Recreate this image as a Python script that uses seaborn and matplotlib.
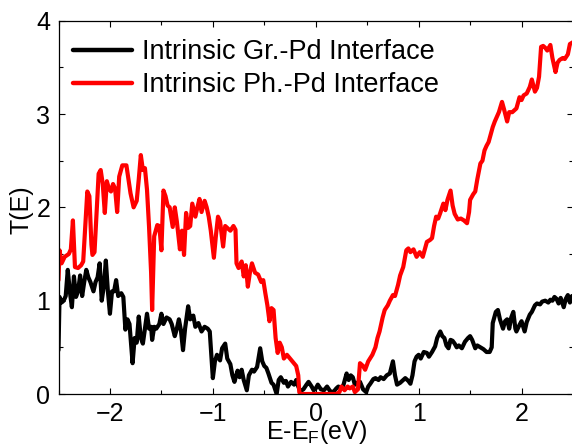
import numpy as np
import pandas as pd
import matplotlib
matplotlib.use("Agg")
import matplotlib.pyplot as plt
from matplotlib.ticker import MultipleLocator
import seaborn as sns

# ---- data ----
LABEL_GR = "Intrinsic Gr.-Pd Interface"
LABEL_PH = "Intrinsic Ph.-Pd Interface"

gr_energy = [
    -2.50, -2.49, -2.47, -2.45, -2.43, -2.41, -2.39, -2.37, -2.35, -2.33, -2.31, -2.29, -2.27, -2.25,
    -2.23, -2.21, -2.19, -2.16, -2.14, -2.12, -2.10, -2.08, -2.06, -2.04, -2.02, -2.00, -1.98, -1.96,
    -1.94, -1.92, -1.89, -1.87, -1.85, -1.83, -1.81, -1.78, -1.76, -1.74, -1.72, -1.70, -1.68, -1.66,
    -1.64, -1.62, -1.60, -1.59, -1.57, -1.55, -1.52, -1.50, -1.48, -1.45, -1.42, -1.40, -1.37, -1.35,
    -1.33, -1.31, -1.29, -1.27, -1.24, -1.22, -1.19, -1.17, -1.14, -1.11, -1.08, -1.05, -1.03, -1.00,
    -0.98, -0.96, -0.93, -0.91, -0.88, -0.86, -0.83, -0.81, -0.79, -0.76, -0.74, -0.72, -0.70, -0.67,
    -0.65, -0.62, -0.60, -0.57, -0.54, -0.52, -0.50, -0.48, -0.46, -0.43, -0.41, -0.38, -0.36, -0.34,
    -0.31, -0.29, -0.27, -0.24, -0.21, -0.19, -0.17, -0.15, -0.12, -0.09, -0.07, -0.04, -0.02, 0.00,
    0.02, 0.05, 0.08, 0.11, 0.14, 0.17, 0.20, 0.22, 0.25, 0.27, 0.30, 0.32, 0.34, 0.36, 0.38, 0.40,
    0.43, 0.46, 0.49, 0.51, 0.53, 0.56, 0.58, 0.61, 0.63, 0.66, 0.69, 0.72, 0.75, 0.77, 0.79, 0.82,
    0.85, 0.87, 0.90, 0.92, 0.94, 0.96, 0.98, 1.00, 1.02, 1.05, 1.08, 1.10, 1.13, 1.16, 1.18, 1.21,
    1.23, 1.25, 1.27, 1.29, 1.31, 1.33, 1.35, 1.37, 1.39, 1.42, 1.45, 1.48, 1.50, 1.52, 1.55, 1.57,
    1.60, 1.63, 1.66, 1.69, 1.71, 1.72, 1.75, 1.77, 1.79, 1.82, 1.84, 1.86, 1.88, 1.90, 1.92, 1.94,
    1.95, 1.98, 2.00, 2.03, 2.05, 2.08, 2.10, 2.13, 2.15, 2.18, 2.20, 2.23, 2.26, 2.28, 2.30, 2.32,
    2.34, 2.36, 2.38, 2.41, 2.43, 2.45, 2.47, 2.49, 2.50,
]
gr_trans = [
    0.47, 1.04, 0.98, 1.00, 1.05, 1.33, 1.10, 0.93, 1.26, 1.04, 1.10, 1.27, 1.05, 1.20,
    1.33, 1.25, 1.20, 1.10, 1.20, 1.25, 1.40, 1.00, 1.15, 1.43, 1.10, 0.86, 1.10, 1.10,
    1.22, 1.05, 1.08, 1.04, 0.69, 0.80, 0.75, 0.33, 0.60, 0.55, 0.83, 0.60, 0.54, 0.70,
    0.86, 0.70, 0.72, 0.58, 0.72, 0.70, 0.75, 0.86, 0.75, 0.82, 0.80, 0.75, 0.62, 0.70,
    0.80, 0.68, 0.47, 0.70, 0.94, 0.80, 0.84, 0.72, 0.76, 0.67, 0.72, 0.70, 0.67, 0.17,
    0.35, 0.42, 0.36, 0.49, 0.54, 0.38, 0.32, 0.20, 0.13, 0.25, 0.18, 0.26, 0.15, 0.04,
    0.20, 0.26, 0.24, 0.29, 0.49, 0.35, 0.30, 0.28, 0.22, 0.12, 0.10, 0.00, 0.15, 0.18,
    0.12, 0.14, 0.08, 0.13, 0.10, 0.15, 0.08, 0.03, 0.05, 0.10, 0.13, 0.08, 0.04, 0.06,
    0.10, 0.05, 0.04, 0.08, 0.03, 0.02, 0.06, 0.08, 0.06, 0.10, 0.22, 0.15, 0.20, 0.18, 0.10, 0.12,
    0.13, 0.05, 0.02, 0.08, 0.11, 0.16, 0.17, 0.15, 0.18, 0.16, 0.20, 0.22, 0.35, 0.20, 0.10, 0.12,
    0.15, 0.17, 0.14, 0.11, 0.20, 0.35, 0.40, 0.42, 0.38, 0.45, 0.44, 0.40, 0.45, 0.51, 0.60, 0.67,
    0.62, 0.60, 0.52, 0.49, 0.58, 0.57, 0.54, 0.50, 0.52, 0.49, 0.56, 0.60, 0.62, 0.58, 0.49, 0.52,
    0.50, 0.48, 0.45, 0.45, 0.50, 0.76, 0.88, 0.90, 0.80, 0.70, 0.78, 0.80, 0.70, 0.82, 0.88, 0.70,
    0.67, 0.74, 0.78, 0.67, 0.77, 0.85, 0.88, 0.95, 0.97, 0.96, 0.99, 1.00, 0.98, 1.01, 1.00, 1.04,
    1.02, 0.97, 1.03, 0.93, 1.02, 1.06, 0.98, 1.05, 1.02,
]

ph_energy = [
    -2.50, -2.49, -2.47, -2.44, -2.40, -2.38, -2.36, -2.34, -2.31, -2.28, -2.26, -2.24, -2.22, -2.20,
    -2.18, -2.17, -2.15, -2.13, -2.11, -2.09, -2.07, -2.05, -2.03, -2.01, -1.99, -1.97, -1.95, -1.93,
    -1.91, -1.88, -1.84, -1.82, -1.80, -1.77, -1.74, -1.72, -1.70, -1.68, -1.66, -1.64, -1.62, -1.60,
    -1.59, -1.57, -1.54, -1.52, -1.50, -1.48, -1.46, -1.44, -1.42, -1.39, -1.37, -1.35, -1.32, -1.30,
    -1.28, -1.26, -1.24, -1.22, -1.20, -1.17, -1.15, -1.13, -1.11, -1.08, -1.06, -1.04, -1.02, -0.99,
    -0.97, -0.95, -0.93, -0.90, -0.88, -0.86, -0.83, -0.80, -0.78, -0.77, -0.75, -0.72, -0.70, -0.68,
    -0.66, -0.64, -0.62, -0.59, -0.56, -0.53, -0.51, -0.49, -0.47, -0.45, -0.43, -0.41, -0.39, -0.37,
    -0.35, -0.33, -0.31, -0.28, -0.25, -0.22, -0.19, -0.17, -0.16, -0.15, 0.00, 0.20, 0.23, 0.25,
    0.28, 0.31, 0.33, 0.36, 0.38, 0.41, 0.43, 0.46, 0.48, 0.51, 0.55, 0.58, 0.60, 0.62, 0.65, 0.67,
    0.70, 0.72, 0.75, 0.77, 0.80, 0.82, 0.85, 0.88, 0.90, 0.92, 0.95, 0.98, 1.01, 1.04, 1.06, 1.08,
    1.11, 1.13, 1.15, 1.17, 1.19, 1.21, 1.24, 1.26, 1.28, 1.31, 1.33, 1.35, 1.38, 1.41, 1.44, 1.47,
    1.49, 1.50, 1.53, 1.55, 1.57, 1.60, 1.62, 1.64, 1.66, 1.68, 1.70, 1.72, 1.74, 1.76, 1.78, 1.81,
    1.83, 1.86, 1.88, 1.91, 1.93, 1.95, 1.98, 2.00, 2.02, 2.05, 2.08, 2.10, 2.13, 2.15, 2.17, 2.19,
    2.21, 2.23, 2.25, 2.28, 2.30, 2.33, 2.35, 2.37, 2.40, 2.42, 2.45, 2.47, 2.50,
]
ph_trans = [
    1.22, 1.54, 1.40, 1.47, 1.50, 1.55, 1.86, 1.36, 1.35, 1.38, 1.42, 1.80, 2.17, 2.12,
    1.60, 1.49, 1.52, 1.95, 2.36, 2.40, 2.25, 1.94, 2.28, 2.20, 2.17, 2.25, 2.20, 1.95,
    2.33, 2.45, 2.45, 2.30, 2.15, 2.00, 2.07, 2.30, 2.56, 2.40, 2.42, 2.19, 1.79, 1.30,
    0.90, 1.69, 1.81, 1.80, 1.54, 2.18, 2.12, 2.02, 2.00, 1.79, 2.00, 1.85, 1.55, 1.75,
    1.49, 1.94, 1.78, 1.80, 2.04, 1.90, 2.00, 2.09, 1.95, 2.07, 2.00, 1.90, 1.75, 1.46,
    1.70, 1.90, 1.85, 1.58, 1.80, 1.78, 1.75, 1.80, 1.76, 1.40, 1.35, 1.42, 1.26, 1.38,
    1.15, 1.30, 1.40, 1.30, 1.28, 1.20, 1.22, 1.08, 0.95, 0.78, 0.92, 0.90, 0.60, 0.44,
    0.55, 0.50, 0.38, 0.42, 0.38, 0.34, 0.30, 0.20, 0.02, 0.00, 0.00, 0.00, 0.02, 0.08,
    0.04, 0.08, 0.06, 0.08, 0.02, 0.05, 0.33, 0.30, 0.26, 0.35, 0.42, 0.50, 0.60, 0.67, 0.82, 0.90,
    0.95, 1.00, 1.06, 1.05, 1.17, 1.27, 1.36, 1.54, 1.56, 1.52, 1.55, 1.47, 1.52, 1.47, 1.55, 1.63,
    1.65, 1.67, 1.80, 1.90, 1.88, 1.94, 2.04, 1.97, 2.08, 2.18, 2.02, 1.93, 1.87, 1.88, 1.86, 1.83,
    1.95, 2.08, 2.14, 2.17, 2.30, 2.47, 2.50, 2.61, 2.66, 2.70, 2.78, 2.86, 2.92, 2.97, 3.02, 3.13,
    3.05, 2.92, 3.02, 3.02, 3.04, 3.06, 3.18, 3.15, 3.20, 3.22, 3.29, 3.37, 3.24, 3.28, 3.40, 3.72,
    3.73, 3.71, 3.68, 3.74, 3.60, 3.45, 3.55, 3.58, 3.60, 3.59, 3.64, 3.75, 3.77,
]

x_ticks = [-2, -1, 0, 1, 2]
y_ticks = [0, 1, 2, 3, 4]

df = pd.concat([
    pd.DataFrame({"E": gr_energy, "T": gr_trans, "series": LABEL_GR}),
    pd.DataFrame({"E": ph_energy, "T": ph_trans, "series": LABEL_PH}),
], ignore_index=True)

# ---- style ----
sns.set_style("ticks")
plt.rcParams["font.family"] = ["Liberation Sans", "DejaVu Sans"]
plt.rcParams["mathtext.fontset"] = "custom"
plt.rcParams["mathtext.rm"] = "Liberation Sans"
plt.rcParams["axes.linewidth"] = 0.9
plt.rcParams["text.color"] = "black"
plt.rcParams["axes.labelcolor"] = "black"

fig = plt.figure(figsize=(5.72, 4.48), dpi=100)
ax = fig.add_axes([58.5 / 572, 54 / 448, 514.5 / 572, 373.3 / 448])

sns.lineplot(data=df, x="E", y="T", hue="series",
             palette={LABEL_GR: "#000000", LABEL_PH: "#ff0000"},
             linewidth=3.0, estimator=None, sort=False, ax=ax)

ax.set_xlim(-2.5, 2.5)
ax.set_ylim(0, 4)
ax.set_xticks(x_ticks)
ax.set_yticks(y_ticks)
ax.xaxis.set_minor_locator(MultipleLocator(0.5))
ax.yaxis.set_minor_locator(MultipleLocator(0.5))
ax.tick_params(which="both", direction="in", top=True, right=True,
               width=0.8, labelsize=18, pad=6, colors="black")
ax.tick_params(which="major", length=4.5)
ax.tick_params(which="minor", length=3)
for s in ax.spines.values():
    s.set_visible(True)
    s.set_color("black")

ax.set_xlabel("E-E$_\\mathrm{F}$(eV)", fontsize=18, color="black")
ax.set_ylabel("T(E)", fontsize=18, color="black")
ax.xaxis.set_label_coords(0.502, -0.064)
ax.yaxis.set_label_coords(-0.048, 0.493)

leg = ax.legend(loc="upper left", bbox_to_anchor=(0.028, 0.950), frameon=False,
                fontsize=19.5, handlelength=2.2, handletextpad=0.35,
                labelspacing=0.26, borderpad=0, borderaxespad=0, title=None)
for line in leg.get_lines():
    line.set_linewidth(3.2)
for t in leg.get_texts():
    t.set_color("black")

fig.savefig("out.png", dpi=100)
